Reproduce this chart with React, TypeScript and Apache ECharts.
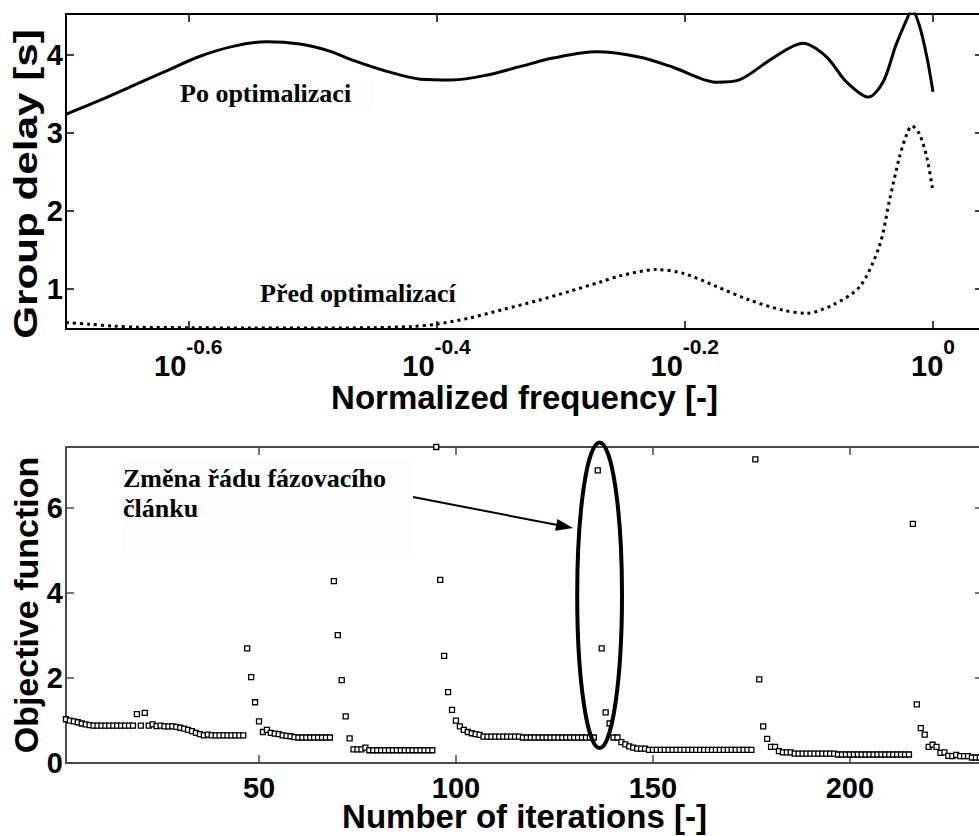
import React, { useEffect, useRef } from 'react';
import * as echarts from 'echarts';

// ---------- data ----------
// Upper plot: x is log10(normalized frequency), y is group delay [s]
const freqTickExp = [-0.6, -0.4, -0.2, 0];
const delayTicks = [1, 2, 3, 4];

const afterLogF = [
  -0.6985, -0.671, -0.644, -0.617, -0.591, -0.564, -0.537, -0.51, -0.486, -0.467,
  -0.44, -0.413, -0.387, -0.36, -0.333, -0.306, -0.271, -0.236, -0.209, -0.174,
  -0.156, -0.129, -0.105, -0.086, -0.07, -0.052, -0.04, -0.03, -0.021, -0.017,
  -0.011, -0.005, 0.0,
];
const afterDelay = [
  3.24, 3.42, 3.61, 3.8, 3.98, 4.11, 4.17, 4.14, 4.05, 3.93,
  3.79, 3.69, 3.68, 3.74, 3.85, 3.96, 4.04, 3.97, 3.84, 3.65,
  3.68, 3.96, 4.15, 3.98, 3.66, 3.46, 3.66, 4.12, 4.46, 4.58,
  4.38, 3.98, 3.53,
];

const beforeLogF = [
  -0.6985, -0.68, -0.66, -0.64, -0.6, -0.55, -0.5, -0.45, -0.42, -0.4,
  -0.373, -0.346, -0.319, -0.293, -0.268, -0.252, -0.223, -0.201, -0.174, -0.148,
  -0.121, -0.102, -0.081, -0.059, -0.043, -0.035, -0.027, -0.021, -0.017, -0.011,
  -0.005, 0.0,
];
const beforeDelay = [
  0.57, 0.55, 0.525, 0.51, 0.505, 0.5, 0.5, 0.505, 0.52, 0.55,
  0.63, 0.74, 0.85, 0.97, 1.09, 1.17, 1.25, 1.2, 1.03, 0.86,
  0.73, 0.69, 0.795, 1.03, 1.56, 2.14, 2.69, 2.99, 3.09, 2.99,
  2.69, 2.25,
];

// Lower plot: objective function value for iterations 1, 2, 3, ...
const iterTicks = [50, 100, 150, 200];
const objTicks = [0, 2, 4, 6];
const objective = [
  1.03, 1.0, 0.98, 0.96, 0.93, 0.91, 0.89, 0.88, 0.88, 0.88,
  0.88, 0.88, 0.88, 0.88, 0.88, 0.88, 0.88, 0.88, 1.15, 0.88,
  1.18, 0.88, 0.91, 0.87, 0.88, 0.86, 0.86, 0.86, 0.85, 0.83,
  0.81, 0.78, 0.75, 0.71, 0.68, 0.65, 0.67, 0.65, 0.65, 0.65,
  0.65, 0.65, 0.65, 0.65, 0.65, 0.65, 2.7, 2.02, 1.43, 0.98,
  0.73, 0.78, 0.71, 0.69, 0.68, 0.65, 0.64, 0.63, 0.61, 0.6,
  0.6, 0.6, 0.6, 0.6, 0.6, 0.6, 0.6, 0.6, 4.28, 3.01,
  1.95, 1.1, 0.58, 0.32, 0.32, 0.32, 0.36, 0.3, 0.3, 0.3,
  0.3, 0.3, 0.3, 0.3, 0.3, 0.3, 0.3, 0.3, 0.3, 0.3,
  0.3, 0.3, 0.3, 0.3, 7.44, 4.31, 2.52, 1.67, 1.25, 1.0,
  0.86, 0.78, 0.73, 0.7, 0.68, 0.66, 0.62, 0.62, 0.62, 0.62,
  0.62, 0.62, 0.62, 0.62, 0.62, 0.62, 0.6, 0.6, 0.6, 0.6,
  0.6, 0.6, 0.6, 0.6, 0.6, 0.6, 0.6, 0.6, 0.6, 0.6,
  0.6, 0.6, 0.6, 0.6, 0.6, 6.89, 2.7, 1.19, 0.93, 0.6,
  0.6, 0.49, 0.44, 0.39, 0.36, 0.34, 0.34, 0.34, 0.31, 0.31,
  0.31, 0.31, 0.31, 0.31, 0.31, 0.31, 0.31, 0.31, 0.31, 0.31,
  0.31, 0.31, 0.31, 0.31, 0.31, 0.31, 0.31, 0.31, 0.31, 0.31,
  0.31, 0.31, 0.31, 0.31, 0.31, 7.15, 1.97, 0.86, 0.57, 0.38,
  0.38, 0.28, 0.25, 0.25, 0.25, 0.22, 0.22, 0.22, 0.22, 0.22,
  0.22, 0.22, 0.22, 0.22, 0.22, 0.22, 0.2, 0.2, 0.2, 0.2,
  0.2, 0.2, 0.2, 0.2, 0.2, 0.2, 0.2, 0.2, 0.2, 0.2,
  0.2, 0.2, 0.2, 0.2, 0.2, 5.63, 1.38, 0.82, 0.67, 0.38,
  0.43, 0.38, 0.24, 0.25, 0.17, 0.16, 0.19, 0.16, 0.16, 0.16,
  0.13, 0.13, 0.13,
];

const SANS = '"Liberation Sans", Arial, Helvetica, sans-serif';
const SERIF = '"Liberation Serif", "Times New Roman", serif';

export default function App() {
  const ref = useRef<HTMLDivElement>(null);

  useEffect(() => {
    document.body.style.margin = '0';
    if (!ref.current) return;
    const chart = echarts.init(ref.current, null, { renderer: 'svg' });

    const tickLbl = { fontSize: 29, fontWeight: 'bold', fontFamily: SANS, color: '#000' };
    const titleStyle = { fontSize: 33, lineHeight: 33, fontWeight: 'bold', fontFamily: SANS, color: '#000' };

    const mirror = (kind: 'x' | 'y', grid: number, min: number, max: number, ticks: number[], color: string) => ({
      type: 'value', gridIndex: grid, position: kind === 'x' ? 'top' : 'right', min, max,
      axisLine: { show: false, onZero: false }, splitLine: { show: false },
      axisLabel: { show: false },
      axisTick: { show: true, inside: true, length: 8, customValues: ticks, lineStyle: { color, width: 1.5 } },
    });

    const xMin0 = -0.6985, xMax0 = 0.0403, yMin0 = 0.488, yMax0 = 4.525;
    const xMin1 = 1, xMax1 = 233.8, yMin1 = 0, yMax1 = 7.44;
    const bottomColor = '#4a4a4a';

    const option: any = {
      animation: false,
      backgroundColor: '#fff',
      grid: [
        {
          left: 66, top: 14, width: 917, height: 315, outerBoundsMode: 'none', containLabel: false,
          show: true, borderColor: '#000', borderWidth: 2, backgroundColor: 'transparent',
        },
        {
          left: 66, top: 447, width: 917, height: 316, outerBoundsMode: 'none', containLabel: false,
          show: true, borderColor: bottomColor, borderWidth: 2, backgroundColor: 'transparent',
        },
      ],
      xAxis: [
        {
          type: 'value', gridIndex: 0, position: 'bottom', min: xMin0, max: xMax0,
          axisLine: { show: false, onZero: false }, splitLine: { show: false },
          axisTick: { show: true, inside: true, length: 8, customValues: freqTickExp, lineStyle: { color: '#000', width: 1.5 } },
          axisLabel: {
            customValues: freqTickExp, margin: 7,
            formatter: (v: number) => `{b|10}{s|${Math.abs(v) < 1e-9 ? '0' : v.toFixed(1)}}`,
            rich: {
              b: { fontSize: 29, fontWeight: 'bold', fontFamily: SANS, color: '#000', lineHeight: 44, padding: [15, 0, 0, 0], verticalAlign: 'bottom' },
              s: { fontSize: 21, fontWeight: 'bold', fontFamily: SANS, color: '#000', lineHeight: 21, verticalAlign: 'top' },
            },
          },
          name: 'Normalized frequency [-]', nameLocation: 'middle', nameGap: 52, nameMoveOverlap: false,
          nameTextStyle: titleStyle,
        },
        mirror('x', 0, xMin0, xMax0, freqTickExp, '#000'),
        {
          type: 'value', gridIndex: 1, position: 'bottom', min: xMin1, max: xMax1,
          axisLine: { show: false, onZero: false }, splitLine: { show: false },
          axisTick: { show: true, inside: true, length: 8, customValues: iterTicks, lineStyle: { color: bottomColor, width: 1.5 } },
          axisLabel: { customValues: iterTicks, margin: 10, ...tickLbl },
          name: 'Number of iterations [-]', nameLocation: 'middle', nameGap: 37, nameMoveOverlap: false,
          nameTextStyle: titleStyle,
        },
        mirror('x', 1, xMin1, xMax1, iterTicks, bottomColor),
      ],
      yAxis: [
        {
          type: 'value', gridIndex: 0, position: 'left', min: yMin0, max: yMax0,
          axisLine: { show: false, onZero: false }, splitLine: { show: false },
          axisTick: { show: true, inside: true, length: 8, customValues: delayTicks, lineStyle: { color: '#000', width: 1.5 } },
          axisLabel: { customValues: delayTicks, margin: 3, ...tickLbl },
        },
        mirror('y', 0, yMin0, yMax0, delayTicks, '#000'),
        {
          type: 'value', gridIndex: 1, position: 'left', min: yMin1, max: yMax1,
          axisLine: { show: false, onZero: false }, splitLine: { show: false },
          axisTick: { show: true, inside: true, length: 8, customValues: objTicks, lineStyle: { color: bottomColor, width: 1.5 } },
          axisLabel: { customValues: objTicks, margin: 3, ...tickLbl },
          name: 'Objective function', nameLocation: 'middle', nameGap: 23, nameMoveOverlap: false,
          nameTextStyle: { ...titleStyle, fontSize: 34, lineHeight: 34 },
        },
        mirror('y', 1, yMin1, yMax1, objTicks, bottomColor),
      ],
      series: [
        {
          name: 'Po optimalizaci', type: 'line', xAxisIndex: 0, yAxisIndex: 0,
          data: afterLogF.map((x, i) => [x, afterDelay[i]]),
          showSymbol: false, smooth: 0.3, clip: true,
          lineStyle: { color: '#000', width: 3 }, z: 3,
        },
        {
          name: 'Před optimalizací', type: 'line', xAxisIndex: 0, yAxisIndex: 0,
          data: beforeLogF.map((x, i) => [x, beforeDelay[i]]),
          showSymbol: false, smooth: 0.3, clip: true,
          lineStyle: { color: '#000', width: 3, type: [3, 4] }, z: 3,
        },
        {
          name: 'Objective function', type: 'scatter', xAxisIndex: 2, yAxisIndex: 2,
          data: objective.map((v, i) => [i + 1, v]),
          symbol: 'rect', symbolSize: 5,
          itemStyle: { color: '#fff', borderColor: '#000', borderWidth: 1.3, opacity: 1 },
          z: 3,
        },
      ],
      graphic: [
        // faint label boxes
        { type: 'rect', z: 1, shape: { x: 176, y: 80, width: 197, height: 31 }, style: { fill: '#fcfcfc' } },
        { type: 'rect', z: 1, shape: { x: 256, y: 279, width: 204, height: 31 }, style: { fill: '#fcfcfc' } },
        { type: 'rect', z: 1, shape: { x: 122, y: 462, width: 288, height: 93 }, style: { fill: '#fcfcfc' } },
        // top y-axis title (stretched along its length like the original)
        {
          type: 'text', z: 10, x: 26, y: 184, rotation: Math.PI / 2, scaleX: 1.28,
          style: { text: 'Group delay [s]', font: `bold 33px ${SANS}`, fill: '#000', align: 'center', verticalAlign: 'middle' },
        },
        {
          type: 'text', z: 10, x: 180, y: 93,
          style: { text: 'Po optimalizaci', font: `bold 26px ${SERIF}`, fill: '#000', align: 'left', verticalAlign: 'middle' },
        },
        {
          type: 'text', z: 10, x: 260, y: 293,
          style: { text: 'Před optimalizací', font: `bold 26px ${SERIF}`, fill: '#000', align: 'left', verticalAlign: 'middle' },
        },
        {
          type: 'text', z: 10, x: 123, y: 478,
          style: { text: 'Změna řádu fázovacího', font: `bold 26px ${SERIF}`, fill: '#000', align: 'left', verticalAlign: 'middle' },
        },
        {
          type: 'text', z: 10, x: 123, y: 508.5,
          style: { text: 'článku', font: `bold 26px ${SERIF}`, fill: '#000', align: 'left', verticalAlign: 'middle' },
        },
        // arrow
        { type: 'line', z: 10, shape: { x1: 413, y1: 497, x2: 560, y2: 525.5 }, style: { stroke: '#000', lineWidth: 2 } },
        { type: 'polygon', z: 10, shape: { points: [[573, 528], [555.2, 530.7], [557.4, 518.9]] }, style: { fill: '#000' } },
        // ellipse around the order change
        { type: 'ellipse', z: 10, shape: { cx: 599.6, cy: 595.3, rx: 22.4, ry: 152.8 }, style: { fill: 'none', stroke: '#000', lineWidth: 4 } },
      ],
    };

    chart.setOption(option);
    return () => chart.dispose();
  }, []);

  return <div ref={ref} style={{ width: 979, height: 836, position: 'absolute', left: 0, top: 0 }} />;
}
